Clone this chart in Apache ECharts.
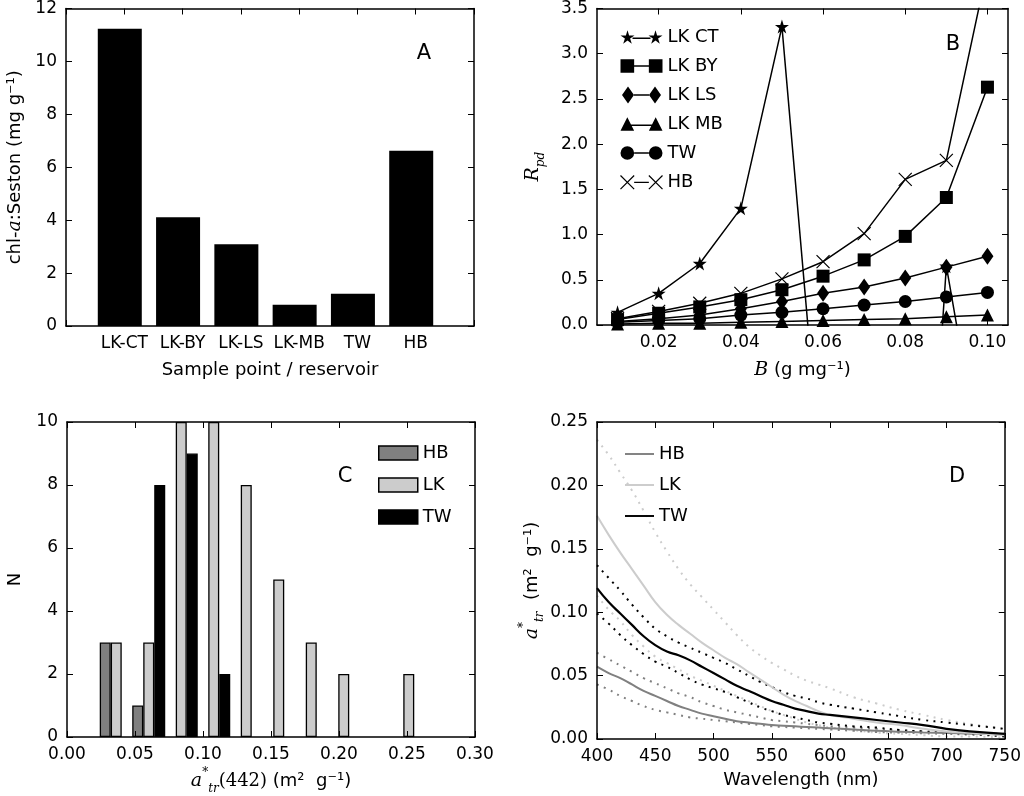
<!DOCTYPE html>
<html><head><meta charset="utf-8">
<script src="https://cdn.jsdelivr.net/npm/echarts@6/dist/echarts.min.js"></script>
<style>html,body{margin:0;padding:0;background:#fff}#c{width:1024px;height:796px}</style>
</head><body><div id="c"></div>
<script>
// ---------- Panel A ----------
const aCategories = ['LK-CT', 'LK-BY', 'LK-LS', 'LK-MB', 'TW', 'HB'];
const aValues = [11.23, 4.11, 3.09, 0.80, 1.22, 6.62];

// ---------- Panel B ----------
const bDose = [0.01, 0.02, 0.03, 0.04, 0.05, 0.06, 0.07, 0.08, 0.09, 0.10];
const bLKCT = [0.14, 0.35, 0.68, 1.29, 3.30, -1.94, -4.0, -6.2, 0.65, -1.95];
const bLKBY = [0.06, 0.13, 0.20, 0.28, 0.39, 0.54, 0.72, 0.98, 1.41, 2.63];
const bLKLS = [0.04, 0.07, 0.11, 0.18, 0.26, 0.35, 0.42, 0.52, 0.64, 0.76];
const bLKMB = [0.01, 0.02, 0.02, 0.03, 0.04, 0.05, 0.06, 0.07, 0.09, 0.11];
const bTW   = [0.03, 0.05, 0.07, 0.11, 0.14, 0.18, 0.22, 0.26, 0.31, 0.36];
const bHB   = [0.07, 0.15, 0.24, 0.35, 0.51, 0.70, 1.01, 1.61, 1.82, 3.95];
const bTicks = [0.02, 0.04, 0.06, 0.08, 0.10];

// ---------- Panel C ----------
const cBinCenters = [0.0362, 0.0601, 0.0840, 0.1079, 0.1318, 0.1557, 0.1796, 0.2035, 0.2274, 0.2513];
const cHB = [3, 1, 0, 0, 0, 0, 0, 0, 0, 0];
const cLK = [3, 3, 10, 10, 8, 5, 3, 2, 0, 2];
const cTW = [0, 8, 9, 2, 0, 0, 0, 0, 0, 0];

// ---------- Panel D ----------
const dWavelength = [400,410,420,430,440,450,460,470,480,490,500,510,520,530,540,550,560,570,580,590,600,620,640,660,680,700,720,750];
const dHBmean = [0.057,0.052,0.048,0.043,0.038,0.034,0.030,0.026,0.023,0.020,0.018,0.016,0.014,0.013,0.012,0.011,0.0105,0.010,0.0095,0.009,0.0085,0.0075,0.0065,0.0058,0.0052,0.0047,0.0042,0.0035];
const dHBup   = [0.068,0.063,0.058,0.053,0.048,0.044,0.040,0.036,0.033,0.029,0.026,0.023,0.021,0.019,0.017,0.015,0.014,0.013,0.012,0.011,0.010,0.009,0.008,0.007,0.006,0.0055,0.005,0.004];
const dHBlo   = [0.043,0.039,0.034,0.030,0.026,0.023,0.021,0.019,0.017,0.016,0.015,0.014,0.013,0.012,0.011,0.010,0.0095,0.009,0.0085,0.008,0.0075,0.0065,0.0055,0.005,0.0045,0.004,0.0035,0.003];
const dLKmean = [0.176,0.161,0.147,0.134,0.121,0.108,0.098,0.090,0.083,0.076,0.070,0.064,0.059,0.053,0.047,0.041,0.035,0.030,0.026,0.022,0.019,0.016,0.013,0.011,0.008,0.006,0.005,0.003];
const dLKup   = [0.236,0.224,0.210,0.196,0.180,0.163,0.148,0.134,0.122,0.112,0.102,0.092,0.082,0.073,0.066,0.060,0.055,0.050,0.046,0.043,0.040,0.033,0.028,0.023,0.019,0.015,0.012,0.008];
const dLKlo   = [0.113,0.102,0.093,0.082,0.073,0.065,0.060,0.055,0.050,0.046,0.042,0.038,0.034,0.030,0.026,0.022,0.019,0.016,0.013,0.011,0.009,0.007,0.005,0.004,0.003,0.002,0.002,0.001];
const dTWmean = [0.119,0.108,0.099,0.090,0.081,0.074,0.069,0.066,0.062,0.057,0.052,0.047,0.042,0.038,0.034,0.030,0.027,0.024,0.022,0.020,0.019,0.017,0.015,0.013,0.011,0.008,0.006,0.004];
const dTWup   = [0.137,0.127,0.117,0.106,0.096,0.087,0.081,0.076,0.072,0.068,0.064,0.060,0.055,0.050,0.045,0.041,0.037,0.034,0.032,0.029,0.027,0.024,0.021,0.018,0.015,0.013,0.011,0.008];
const dTWlo   = [0.099,0.091,0.082,0.074,0.067,0.061,0.057,0.052,0.047,0.043,0.040,0.037,0.033,0.029,0.025,0.022,0.019,0.017,0.015,0.013,0.012,0.010,0.009,0.007,0.006,0.005,0.004,0.002];

// ---------- styling helpers ----------
const FONT = 'DejaVu Sans';
const SERIF = 'DejaVu Serif';
const GRAY_DARK = '#808080';
const GRAY_LIGHT = '#cccccc';
const tick = { inside: true, length: 6, lineStyle: { color: '#000', width: 1 } };
const axLine = { show: true, onZero: false, lineStyle: { color: '#000', width: 1.5 } };
const richTok = {
  ri: { fontFamily: SERIF, fontStyle: 'italic', fontSize: 19, lineHeight: 28, color: '#000' },
  rm: { fontFamily: SERIF, fontSize: 18, lineHeight: 28, color: '#000' },
  sup: { fontFamily: SERIF, fontSize: 12, lineHeight: 12, verticalAlign: 'top', color: '#000' },
  sub: { fontFamily: SERIF, fontStyle: 'italic', fontSize: 12, lineHeight: 12, verticalAlign: 'bottom', color: '#000' }
};
function pair(kind, grid, cfg) {
  const labelCfg = Object.assign({ color: '#000', fontFamily: FONT, fontSize: 17, margin: 9 }, cfg.label || {});
  const prim = {
    type: 'value', gridIndex: grid, z: 10,
    position: kind === 'x' ? 'bottom' : 'left',
    min: cfg.min, max: cfg.max, interval: cfg.interval,
    axisLine: axLine, axisTick: Object.assign({}, tick, cfg.ticks ? { customValues: cfg.ticks } : {}),
    splitLine: { show: false },
    axisLabel: Object.assign(labelCfg, cfg.ticks ? { customValues: cfg.ticks } : {}),
    name: cfg.name || '', nameLocation: 'middle', nameGap: cfg.nameGap || 30,
    nameRotate: kind === 'y' ? 90 : 0,
    nameTextStyle: { color: '#000', fontFamily: FONT, fontSize: 18, lineHeight: 28, rich: richTok }
  };
  const sec = {
    type: 'value', gridIndex: grid, z: 10,
    position: kind === 'x' ? 'top' : 'right',
    min: cfg.min, max: cfg.max, interval: cfg.interval,
    axisLine: axLine, axisTick: Object.assign({}, tick, cfg.ticks ? { customValues: cfg.ticks } : {}),
    splitLine: { show: false }, axisLabel: { show: false }
  };
  return [prim, sec];
}

const xAxes = [].concat(
  pair('x', 0, { min: -1, max: 6, interval: 1, name: 'Sample point / reservoir', nameGap: 30,
    label: { formatter: v => (aCategories[v] !== undefined ? aCategories[v] : '') } }),
  pair('x', 1, { min: 0.005, max: 0.105, ticks: bTicks, name: '{ri|B} (g mg⁻¹)', nameGap: 31,
    label: { formatter: v => v.toFixed(2) } }),
  pair('x', 2, { min: 0, max: 0.30, interval: 0.05, name: '{ri|a}{sup|*}{sub|tr}{rm|(442)} (m²  g⁻¹)', nameGap: 30,
    label: { formatter: v => v.toFixed(2) } }),
  pair('x', 3, { min: 400, max: 750, interval: 50, name: 'Wavelength (nm)', nameGap: 27 })
);
const yAxes = [].concat(
  pair('y', 0, { min: 0, max: 12, interval: 2, name: 'chl-{ri|a}:Seston (mg g⁻¹)', nameGap: 37 }),
  pair('y', 1, { min: 0, max: 3.5, interval: 0.5, name: '{ri|R}{sub|pd}', nameGap: 50,
    label: { formatter: v => v.toFixed(1) } }),
  pair('y', 2, { min: 0, max: 10, interval: 2, name: 'N', nameGap: 38 }),
  pair('y', 3, { min: 0, max: 0.25, interval: 0.05, name: '{ri|a}{sup|*}{sub|tr}  (m²  g⁻¹)', nameGap: 50,
    label: { formatter: v => v.toFixed(2) } })
);

// marker paths
const STAR = 'M6.5,0.5L7.97,4.98L12.68,4.99L8.88,7.77L10.32,12.26L6.5,9.5L2.68,12.26L4.12,7.77L0.32,4.99L5.03,4.98Z';
const XMARK = 'M0,0L10,10M10,0L0,10';
const ICONS = {
  star: 'path://M7,0L8.6,5.1L14,5.1L9.6,8.3L11.3,13.4L7,10.3L2.7,13.4L4.4,8.3L0,5.1L5.4,5.1Z' +
        'M35,0L36.6,5.1L42,5.1L37.6,8.3L39.3,13.4L35,10.3L30.7,13.4L32.4,8.3L28,5.1L33.4,5.1Z' +
        'M12,7.3L30,7.3L30,8.7L12,8.7Z',
  square: 'path://M0,0L13,0L13,13L0,13Z M27,0L40,0L40,13L27,13Z M13,5.8L27,5.8L27,7.2L13,7.2Z',
  diamond: 'path://M6,0L12,8.5L6,17L0,8.5Z M33,0L39,8.5L33,17L27,8.5Z M12,7.8L27,7.8L27,9.2L12,9.2Z',
  triangle: 'path://M6.5,0L13,13L0,13Z M33.5,0L40,13L27,13Z M10,7L30,7L30,8.4L10,8.4Z',
  circle: 'path://M0,6.5A6.5,6.5 0 1,0 13,6.5A6.5,6.5 0 1,0 0,6.5Z M27,6.5A6.5,6.5 0 1,0 40,6.5A6.5,6.5 0 1,0 27,6.5Z M13,5.8L27,5.8L27,7.2L13,7.2Z',
  x: 'path://M0,0L13,13M13,0L0,13M27,0L40,13M40,0L27,13M13,6.5L27,6.5'
};

function pts(xs, ys) { return xs.map((x, i) => [x, ys[i]]); }
function bLine(name, ys, symbol, size, hollow) {
  return {
    type: 'line', name: name, xAxisIndex: 2, yAxisIndex: 2, data: pts(bDose, ys),
    symbol: symbol, symbolSize: size, showAllSymbol: true, clip: true,
    lineStyle: { color: '#000', width: 1.5 },
    itemStyle: hollow ? { color: 'none', borderColor: '#000', borderWidth: 1.2 } : { color: '#000', borderWidth: 0 },
    emphasis: { disabled: true }, z: 3
  };
}
function cBar(name, ys, color) {
  // zero-count bins are left empty (no visible bar)
  return {
    type: 'bar', name: name, xAxisIndex: 4, yAxisIndex: 4,
    data: cBinCenters.map((x, i) => [x, ys[i] === 0 ? null : ys[i]]),
    barWidth: 11, barGap: '0%',
    itemStyle: { color: color, borderColor: '#000', borderWidth: 1.3 },
    emphasis: { disabled: true }
  };
}
function dLine(name, ys, color, width, dotted) {
  return {
    type: 'line', name: name, xAxisIndex: 6, yAxisIndex: 6, data: pts(dWavelength, ys),
    symbol: 'none', smooth: 0.45,
    lineStyle: dotted ? { color: color, width: 2, type: [2, 5.5], cap: 'butt' } : { color: color, width: width },
    itemStyle: { color: color },
    emphasis: { disabled: true }, z: dotted ? 2 : 3
  };
}

const option = {
  backgroundColor: '#fff',
  animation: false,
  textStyle: { fontFamily: FONT },
  grid: [
    { left: 63, top: 7, width: 411, height: 319 },
    { left: 597, top: 7, width: 411, height: 318 },
    { left: 63, top: 422, width: 412, height: 317 },
    { left: 597, top: 422, width: 411, height: 317 }
  ],
  xAxis: xAxes,
  yAxis: yAxes,
  legend: [
    {
      orient: 'vertical', left: 613, top: 23, itemWidth: 42, itemHeight: 17, itemGap: 11, itemTextGap: 13,
      textStyle: { fontFamily: FONT, fontSize: 18, color: '#000' },
      formatter: n => n.split(':')[1], selectedMode: false,
      data: [
        { name: 'B:LK CT', icon: ICONS.star },
        { name: 'B:LK BY', icon: ICONS.square },
        { name: 'B:LK LS', icon: ICONS.diamond },
        { name: 'B:LK MB', icon: ICONS.triangle },
        { name: 'B:TW', icon: ICONS.circle },
        { name: 'B:HB', icon: ICONS.x, itemStyle: { color: 'none', borderColor: '#000', borderWidth: 1.2 } }
      ]
    },
    {
      orient: 'vertical', left: 373, top: 439, itemWidth: 39, itemHeight: 14, itemGap: 14, itemTextGap: 15,
      textStyle: { fontFamily: FONT, fontSize: 18, color: '#000' }, icon: 'rect',
      itemStyle: { borderWidth: 1.5, borderColor: '#000' },
      formatter: n => n.split(':')[1], selectedMode: false,
      data: ['C:HB', 'C:LK', 'C:TW']
    },
    {
      orient: 'vertical', left: 620, top: 440, itemWidth: 29, itemHeight: 14, itemGap: 13, itemTextGap: 19,
      textStyle: { fontFamily: FONT, fontSize: 18, color: '#000' },
      icon: 'path://M0,0L30,0L30,2L0,2Z',
      formatter: n => n.split(':')[1], selectedMode: false,
      data: ['D:HB', 'D:LK', 'D:TW']
    }
  ],
  graphic: [
    { type: 'text', x: 424, y: 54, style: { text: 'A', font: '21px DejaVu Sans', fill: '#000', align: 'center', verticalAlign: 'middle' } },
    { type: 'text', x: 953, y: 45, style: { text: 'B', font: '21px DejaVu Sans', fill: '#000', align: 'center', verticalAlign: 'middle' } },
    { type: 'text', x: 345, y: 477, style: { text: 'C', font: '21px DejaVu Sans', fill: '#000', align: 'center', verticalAlign: 'middle' } },
    { type: 'text', x: 957, y: 477, style: { text: 'D', font: '21px DejaVu Sans', fill: '#000', align: 'center', verticalAlign: 'middle' } }
  ],
  series: [
    // Panel A
    { type: 'bar', name: 'A:chl', xAxisIndex: 0, yAxisIndex: 0, data: pts(aCategories.map((c, i) => i), aValues),
      barWidth: 44, barGap: '0%', itemStyle: { color: '#000' }, emphasis: { disabled: true } },
    { type: 'bar', name: 'A:pad', xAxisIndex: 0, yAxisIndex: 0, data: [], barWidth: 9, barGap: '0%' },
    // Panel B
    bLine('B:TW', bTW, 'circle', 13, false),
    bLine('B:LK MB', bLKMB, 'triangle', 13, false),
    bLine('B:LK LS', bLKLS, 'diamond', [12, 17], false),
    bLine('B:LK BY', bLKBY, 'rect', 13, false),
    bLine('B:HB', bHB, 'path://' + XMARK, 13, true),
    bLine('B:LK CT', bLKCT, 'path://' + STAR, 14, false),
    // Panel C
    cBar('C:HB', cHB, GRAY_DARK),
    cBar('C:LK', cLK, GRAY_LIGHT),
    cBar('C:TW', cTW, '#000'),
    // Panel D
    dLine('D:HB+', dHBup, GRAY_DARK, 2, true),
    dLine('D:HB-', dHBlo, GRAY_DARK, 2, true),
    dLine('D:LK+', dLKup, GRAY_LIGHT, 2, true),
    dLine('D:LK-', dLKlo, GRAY_LIGHT, 2, true),
    dLine('D:TW+', dTWup, '#000', 2, true),
    dLine('D:TW-', dTWlo, '#000', 2, true),
    dLine('D:HB', dHBmean, GRAY_DARK, 2, false),
    dLine('D:LK', dLKmean, GRAY_LIGHT, 2, false),
    dLine('D:TW', dTWmean, '#000', 2.2, false)
  ]
};
const chart = echarts.init(document.getElementById('c'), null, { renderer: 'canvas' });
chart.setOption(option);
</script>
</body></html>
